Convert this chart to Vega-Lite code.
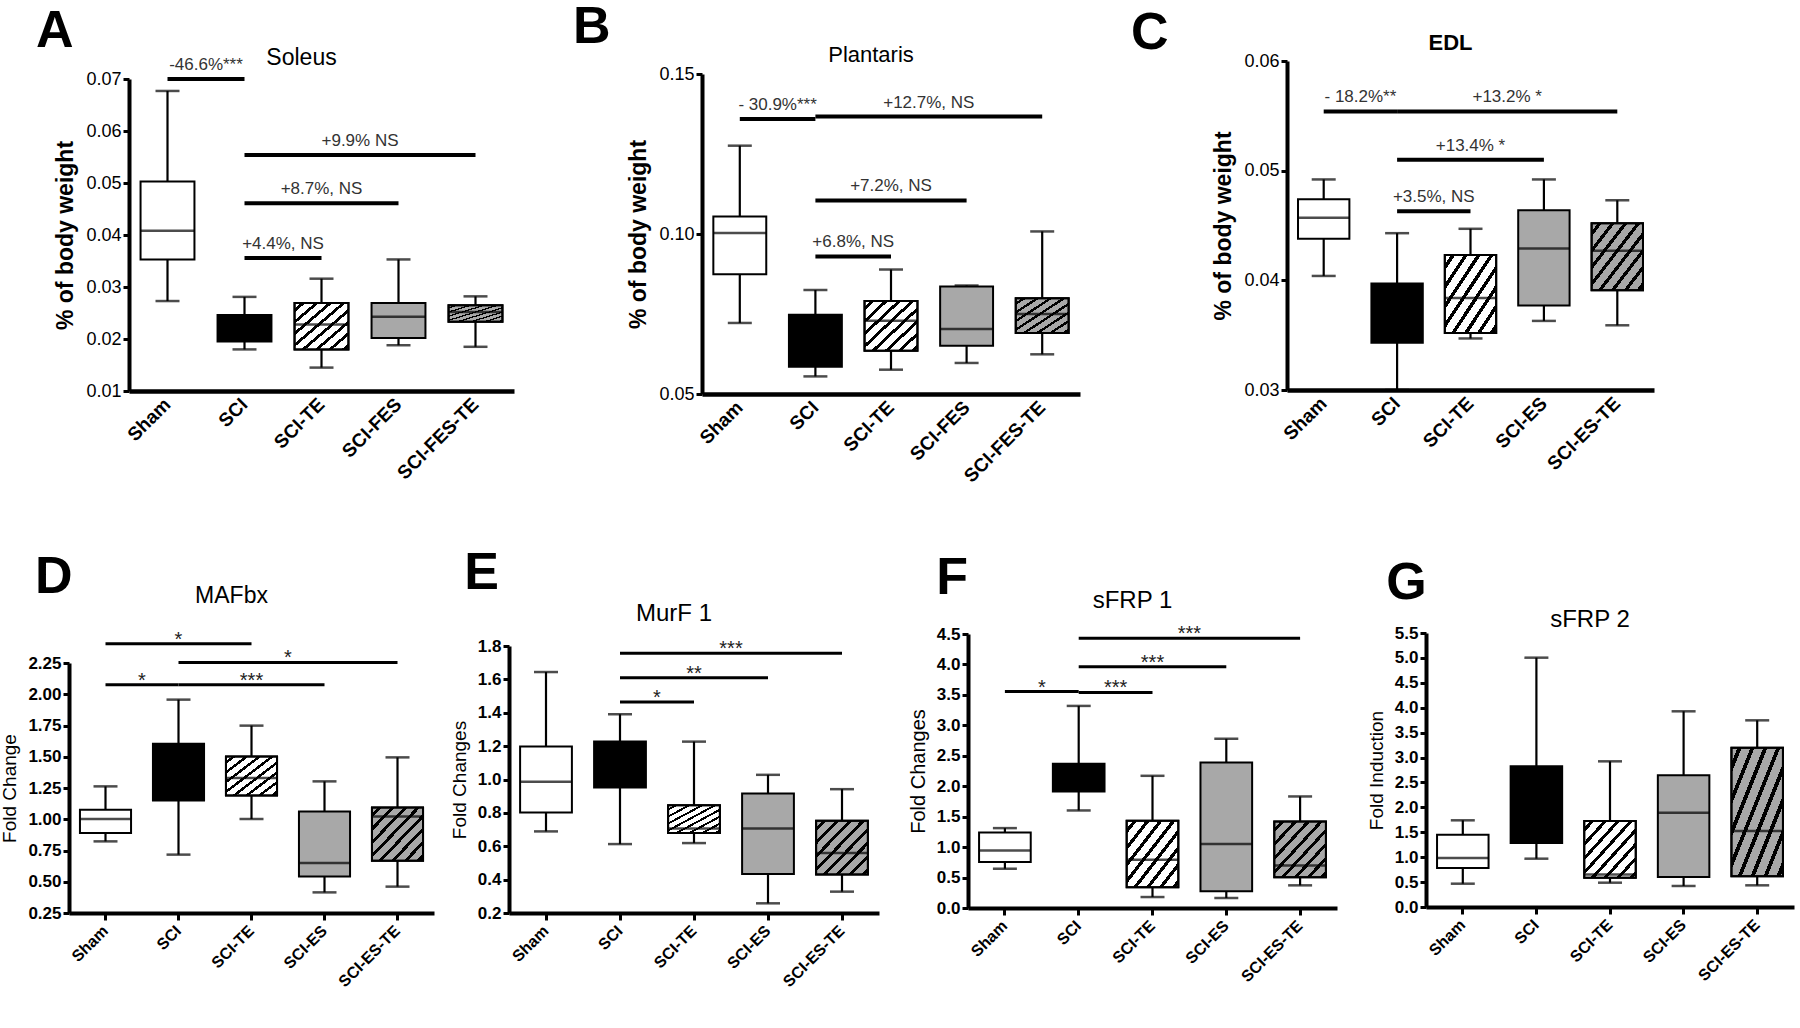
{
"$schema": "https://vega.github.io/schema/vega-lite/v6.json",
"padding": {"left": 0, "top": 1, "right": 3, "bottom": 3},
"background": "white",
"config": {"view": {"stroke": null}, "font": "Liberation Sans", "axis": {"grid": false, "domainColor": "black", "tickColor": "black", "labelColor": "black", "titleColor": "black", "labelFont": "Liberation Sans", "titleFont": "Liberation Sans", "labelOverlap": false, "tickCount": 30}, "title": {"font": "Liberation Sans", "color": "black"}},
"spacing": 61,
"vconcat": [
{"spacing": -35, "hconcat": [
 {"width": 1, "height": 1, "data": {"values": []}, "mark": "point"},
 {"spacing": 58, "hconcat": [
  {"title": {"text": "A", "anchor": "start", "frame": "bounds", "fontSize": 52, "fontWeight": "bold", "dx": -19, "offset": -11},
   "spacing": -15,
   "vconcat": [{"width": 1, "height": 1, "data": {"values": []}, "mark": "point"},
    {"width": 385, "height": 312,
    "title": {"text": "Soleus", "anchor": "middle", "frame": "group", "fontSize": 23, "fontWeight": "normal", "dx": -20, "offset": -14},
    "layer": [
     {"data": {"values": [
       {"group": "Sham", "lo": 0.0273, "q1": 0.0353, "median": 0.0408, "q3": 0.0503, "hi": 0.0677},
       {"group": "SCI", "lo": 0.0180, "q1": 0.0195, "median": 0.0220, "q3": 0.0246, "hi": 0.0281},
       {"group": "SCI-TE", "lo": 0.0145, "q1": 0.0180, "median": 0.0228, "q3": 0.0269, "hi": 0.0316},
       {"group": "SCI-FES", "lo": 0.0188, "q1": 0.0202, "median": 0.0243, "q3": 0.0269, "hi": 0.0353},
       {"group": "SCI-FES-TE", "lo": 0.0185, "q1": 0.0233, "median": 0.0252, "q3": 0.0265, "hi": 0.0282}]},
      "encoding": {"x": {"field": "group", "type": "nominal", "scale": {"domain": ["Sham","SCI","SCI-TE","SCI-FES","SCI-FES-TE"], "paddingInner": 0, "paddingOuter": 0}, "axis": {"title": null, "ticks": false, "domainWidth": 4.5, "labelAngle": -45, "labelAlign": "right", "labelBaseline": "middle", "labelFontSize": 19, "labelFontWeight": "bold", "labelPadding": 10}}},
      "layer": [
       {"mark": {"type": "rule", "strokeWidth": 2.2, "color": "black"}, "encoding": {"y": {"field": "lo", "type": "quantitative", "scale": {"domain": [0.01, 0.07], "nice": false, "zero": false}, "axis": {"title": "% of body weight", "values": [0.01,0.02,0.03,0.04,0.05,0.06,0.07], "tickCount": 30, "format": ".2f", "labelOverlap": false, "domainWidth": 4, "tickWidth": 3, "tickSize": 6, "labelFontSize": 18, "titleFontSize": 23, "titleFontWeight": "bold", "labelPadding": 2, "titlePadding": 8}}, "y2": {"field": "hi"}}},
       {"mark": {"type": "tick", "size": 24, "thickness": 2.5, "color": "black"}, "encoding": {"y": {"field": "lo", "type": "quantitative"}}},
       {"mark": {"type": "tick", "size": 24, "thickness": 2.5, "color": "black"}, "encoding": {"y": {"field": "hi", "type": "quantitative"}}},
       {"mark": {"type": "bar", "width": {"band": 0.7}, "stroke": "black", "strokeWidth": 2}, "encoding": {"y": {"field": "q1", "type": "quantitative"}, "y2": {"field": "q3"}, "fill": {"field": "group", "type": "nominal", "scale": {"domain": ["Sham","SCI","SCI-TE","SCI-FES","SCI-FES-TE","SCI-ES","SCI-ES-TE"], "range": ["white","black","white","#a8a8a8","#a8a8a8","#a8a8a8","#a8a8a8"]}, "legend": null}}},
       {"transform": [{"filter": "indexof(datum.group, '-TE') >= 0"}], "mark": {"type": "bar", "width": {"band": 0.7}, "stroke": "black", "strokeWidth": 2, "fill": {"gradient": "linear", "x1": 0, "y1": 0, "x2": 1, "y2": 1, "stops": [{"offset": 0, "color": "rgba(0,0,0,0)"},{"offset": 0.06, "color": "rgba(0,0,0,0)"},{"offset": 0.06, "color": "black"},{"offset": 0.1, "color": "black"},{"offset": 0.1, "color": "rgba(0,0,0,0)"},{"offset": 0.185, "color": "rgba(0,0,0,0)"},{"offset": 0.185, "color": "black"},{"offset": 0.225, "color": "black"},{"offset": 0.225, "color": "rgba(0,0,0,0)"},{"offset": 0.31, "color": "rgba(0,0,0,0)"},{"offset": 0.31, "color": "black"},{"offset": 0.35, "color": "black"},{"offset": 0.35, "color": "rgba(0,0,0,0)"},{"offset": 0.435, "color": "rgba(0,0,0,0)"},{"offset": 0.435, "color": "black"},{"offset": 0.475, "color": "black"},{"offset": 0.475, "color": "rgba(0,0,0,0)"},{"offset": 0.56, "color": "rgba(0,0,0,0)"},{"offset": 0.56, "color": "black"},{"offset": 0.6, "color": "black"},{"offset": 0.6, "color": "rgba(0,0,0,0)"},{"offset": 0.685, "color": "rgba(0,0,0,0)"},{"offset": 0.685, "color": "black"},{"offset": 0.725, "color": "black"},{"offset": 0.725, "color": "rgba(0,0,0,0)"},{"offset": 0.81, "color": "rgba(0,0,0,0)"},{"offset": 0.81, "color": "black"},{"offset": 0.85, "color": "black"},{"offset": 0.85, "color": "rgba(0,0,0,0)"},{"offset": 0.935, "color": "rgba(0,0,0,0)"},{"offset": 0.935, "color": "black"},{"offset": 0.975, "color": "black"},{"offset": 0.975, "color": "rgba(0,0,0,0)"},{"offset": 1, "color": "rgba(0,0,0,0)"}]}}, "encoding": {"y": {"field": "q1", "type": "quantitative"}, "y2": {"field": "q3"}}},
       {"mark": {"type": "tick", "size": 54, "thickness": 2.5, "color": "black"}, "encoding": {"y": {"field": "median", "type": "quantitative"}}}
      ]},
     {"data": {"values": [
       {"from": "Sham", "to": "SCI", "y": 0.0700, "label": "-46.6%***"},
       {"from": "SCI", "to": "SCI-FES-TE", "y": 0.0554, "label": "+9.9% NS"},
       {"from": "SCI", "to": "SCI-FES", "y": 0.0461, "label": "+8.7%, NS"},
       {"from": "SCI", "to": "SCI-TE", "y": 0.0356, "label": "+4.4%, NS"}]},
      "transform": [{"calculate": "indexof(['Sham','SCI','SCI-TE','SCI-FES','SCI-FES-TE'], datum.from)", "as": "i0"}, {"calculate": "indexof(['Sham','SCI','SCI-TE','SCI-FES','SCI-FES-TE'], datum.to)", "as": "i1"}, {"calculate": "(datum.i0 + datum.i1) / 2", "as": "im"}],
      "layer": [
       {"mark": {"type": "rule", "strokeWidth": 4, "color": "black"}, "encoding": {"x": {"field": "i0", "type": "quantitative", "scale": {"domain": [-0.5, 4.5], "nice": false, "zero": false}, "axis": null}, "x2": {"field": "i1"}, "y": {"field": "y", "type": "quantitative"}}},
       {"mark": {"type": "text", "fontSize": 17, "color": "#333", "baseline": "alphabetic", "dy": -9}, "encoding": {"x": {"field": "im", "type": "quantitative", "scale": {"domain": [-0.5, 4.5], "nice": false, "zero": false}, "axis": null}, "y": {"field": "y", "type": "quantitative"}, "text": {"field": "label"}}}
      ]}
    ],
    "resolve": {"scale": {"x": "independent"}}}]},
  {"spacing": 50, "hconcat": [
   {"title": {"text": "B", "anchor": "start", "frame": "bounds", "fontSize": 52, "fontWeight": "bold", "dx": -55, "offset": -10},
    "spacing": -18,
    "vconcat": [{"width": 1, "height": 1, "data": {"values": []}, "mark": "point"},
     {"width": 378, "height": 320,
     "title": {"text": "Plantaris", "anchor": "middle", "frame": "group", "fontSize": 22, "fontWeight": "normal", "dx": -20, "offset": -2},
     "layer": [
      {"data": {"values": [
        {"group": "Sham", "lo": 0.0722, "q1": 0.0874, "median": 0.1003, "q3": 0.1055, "hi": 0.1276},
        {"group": "SCI", "lo": 0.0555, "q1": 0.0585, "median": 0.0650, "q3": 0.0748, "hi": 0.0825},
        {"group": "SCI-TE", "lo": 0.0576, "q1": 0.0635, "median": 0.0729, "q3": 0.0791, "hi": 0.0889},
        {"group": "SCI-FES", "lo": 0.0597, "q1": 0.0651, "median": 0.0703, "q3": 0.0836, "hi": 0.0839},
        {"group": "SCI-FES-TE", "lo": 0.0624, "q1": 0.0691, "median": 0.0750, "q3": 0.0799, "hi": 0.1008}]},
       "encoding": {"x": {"field": "group", "type": "nominal", "scale": {"domain": ["Sham","SCI","SCI-TE","SCI-FES","SCI-FES-TE"], "paddingInner": 0, "paddingOuter": 0}, "axis": {"title": null, "ticks": false, "domainWidth": 4.5, "labelAngle": -45, "labelAlign": "right", "labelBaseline": "middle", "labelFontSize": 19, "labelFontWeight": "bold", "labelPadding": 10}}},
       "layer": [
        {"mark": {"type": "rule", "strokeWidth": 2.2, "color": "black"}, "encoding": {"y": {"field": "lo", "type": "quantitative", "scale": {"domain": [0.05, 0.15], "nice": false, "zero": false}, "axis": {"title": "% of body weight", "values": [0.05,0.10,0.15], "tickCount": 30, "format": ".2f", "labelOverlap": false, "domainWidth": 4, "tickWidth": 3, "tickSize": 6, "labelFontSize": 18, "titleFontSize": 23, "titleFontWeight": "bold", "labelPadding": 2, "titlePadding": 8}}, "y2": {"field": "hi"}}},
        {"mark": {"type": "tick", "size": 24, "thickness": 2.5, "color": "black"}, "encoding": {"y": {"field": "lo", "type": "quantitative"}}},
        {"mark": {"type": "tick", "size": 24, "thickness": 2.5, "color": "black"}, "encoding": {"y": {"field": "hi", "type": "quantitative"}}},
        {"mark": {"type": "bar", "width": {"band": 0.7}, "stroke": "black", "strokeWidth": 2}, "encoding": {"y": {"field": "q1", "type": "quantitative"}, "y2": {"field": "q3"}, "fill": {"field": "group", "type": "nominal", "scale": {"domain": ["Sham","SCI","SCI-TE","SCI-FES","SCI-FES-TE","SCI-ES","SCI-ES-TE"], "range": ["white","black","white","#a8a8a8","#a8a8a8","#a8a8a8","#a8a8a8"]}, "legend": null}}},
        {"transform": [{"filter": "indexof(datum.group, '-TE') >= 0"}], "mark": {"type": "bar", "width": {"band": 0.7}, "stroke": "black", "strokeWidth": 2, "fill": {"gradient": "linear", "x1": 0, "y1": 0, "x2": 1, "y2": 1, "stops": [{"offset": 0, "color": "rgba(0,0,0,0)"},{"offset": 0.06, "color": "rgba(0,0,0,0)"},{"offset": 0.06, "color": "black"},{"offset": 0.1, "color": "black"},{"offset": 0.1, "color": "rgba(0,0,0,0)"},{"offset": 0.185, "color": "rgba(0,0,0,0)"},{"offset": 0.185, "color": "black"},{"offset": 0.225, "color": "black"},{"offset": 0.225, "color": "rgba(0,0,0,0)"},{"offset": 0.31, "color": "rgba(0,0,0,0)"},{"offset": 0.31, "color": "black"},{"offset": 0.35, "color": "black"},{"offset": 0.35, "color": "rgba(0,0,0,0)"},{"offset": 0.435, "color": "rgba(0,0,0,0)"},{"offset": 0.435, "color": "black"},{"offset": 0.475, "color": "black"},{"offset": 0.475, "color": "rgba(0,0,0,0)"},{"offset": 0.56, "color": "rgba(0,0,0,0)"},{"offset": 0.56, "color": "black"},{"offset": 0.6, "color": "black"},{"offset": 0.6, "color": "rgba(0,0,0,0)"},{"offset": 0.685, "color": "rgba(0,0,0,0)"},{"offset": 0.685, "color": "black"},{"offset": 0.725, "color": "black"},{"offset": 0.725, "color": "rgba(0,0,0,0)"},{"offset": 0.81, "color": "rgba(0,0,0,0)"},{"offset": 0.81, "color": "black"},{"offset": 0.85, "color": "black"},{"offset": 0.85, "color": "rgba(0,0,0,0)"},{"offset": 0.935, "color": "rgba(0,0,0,0)"},{"offset": 0.935, "color": "black"},{"offset": 0.975, "color": "black"},{"offset": 0.975, "color": "rgba(0,0,0,0)"},{"offset": 1, "color": "rgba(0,0,0,0)"}]}}, "encoding": {"y": {"field": "q1", "type": "quantitative"}, "y2": {"field": "q3"}}},
        {"mark": {"type": "tick", "size": 53, "thickness": 2.5, "color": "black"}, "encoding": {"y": {"field": "median", "type": "quantitative"}}}
       ]},
      {"data": {"values": [
        {"from": "Sham", "to": "SCI", "y": 0.1359, "label": "- 30.9%***"},
        {"from": "SCI", "to": "SCI-FES-TE", "y": 0.1367, "label": "+12.7%, NS"},
        {"from": "SCI", "to": "SCI-FES", "y": 0.1105, "label": "+7.2%, NS"},
        {"from": "SCI", "to": "SCI-TE", "y": 0.0930, "label": "+6.8%, NS"}]},
       "transform": [{"calculate": "indexof(['Sham','SCI','SCI-TE','SCI-FES','SCI-FES-TE'], datum.from)", "as": "i0"}, {"calculate": "indexof(['Sham','SCI','SCI-TE','SCI-FES','SCI-FES-TE'], datum.to)", "as": "i1"}, {"calculate": "(datum.i0 + datum.i1) / 2", "as": "im"}],
       "layer": [
        {"mark": {"type": "rule", "strokeWidth": 4, "color": "black"}, "encoding": {"x": {"field": "i0", "type": "quantitative", "scale": {"domain": [-0.5, 4.5], "nice": false, "zero": false}, "axis": null}, "x2": {"field": "i1"}, "y": {"field": "y", "type": "quantitative"}}},
        {"mark": {"type": "text", "fontSize": 17, "color": "#333", "baseline": "alphabetic", "dy": -9}, "encoding": {"x": {"field": "im", "type": "quantitative", "scale": {"domain": [-0.5, 4.5], "nice": false, "zero": false}, "axis": null}, "y": {"field": "y", "type": "quantitative"}, "text": {"field": "label"}}}
       ]}
     ],
     "resolve": {"scale": {"x": "independent"}}}]},
   {"title": {"text": "C", "anchor": "start", "frame": "bounds", "fontSize": 52, "fontWeight": "bold", "dx": -82, "offset": -28},
    "vconcat": [{"width": 367, "height": 329,
     "title": {"text": "EDL", "anchor": "middle", "frame": "group", "fontSize": 22, "fontWeight": "bold", "dx": -20, "offset": -3},
     "layer": [
      {"data": {"values": [
        {"group": "Sham", "lo": 0.0404, "q1": 0.0438, "median": 0.0457, "q3": 0.0474, "hi": 0.0492},
        {"group": "SCI", "lo": 0.0300, "q1": 0.0343, "median": 0.0370, "q3": 0.0397, "hi": 0.0443},
        {"group": "SCI-TE", "lo": 0.0347, "q1": 0.0352, "median": 0.0384, "q3": 0.0423, "hi": 0.0447},
        {"group": "SCI-ES", "lo": 0.0363, "q1": 0.0377, "median": 0.0429, "q3": 0.0464, "hi": 0.0492},
        {"group": "SCI-ES-TE", "lo": 0.0359, "q1": 0.0391, "median": 0.0427, "q3": 0.0452, "hi": 0.0473}]},
       "encoding": {"x": {"field": "group", "type": "nominal", "scale": {"domain": ["Sham","SCI","SCI-TE","SCI-ES","SCI-ES-TE"], "paddingInner": 0, "paddingOuter": 0}, "axis": {"title": null, "ticks": false, "domainWidth": 4.5, "labelAngle": -45, "labelAlign": "right", "labelBaseline": "middle", "labelFontSize": 19, "labelFontWeight": "bold", "labelPadding": 10}}},
       "layer": [
        {"mark": {"type": "rule", "strokeWidth": 2.2, "color": "black"}, "encoding": {"y": {"field": "lo", "type": "quantitative", "scale": {"domain": [0.03, 0.06], "nice": false, "zero": false}, "axis": {"title": "% of body weight", "values": [0.03,0.04,0.05,0.06], "tickCount": 30, "format": ".2f", "labelOverlap": false, "domainWidth": 4, "tickWidth": 3, "tickSize": 6, "labelFontSize": 18, "titleFontSize": 23, "titleFontWeight": "bold", "labelPadding": 2, "titlePadding": 8}}, "y2": {"field": "hi"}}},
        {"mark": {"type": "tick", "size": 24, "thickness": 2.5, "color": "black"}, "encoding": {"y": {"field": "lo", "type": "quantitative"}}},
        {"mark": {"type": "tick", "size": 24, "thickness": 2.5, "color": "black"}, "encoding": {"y": {"field": "hi", "type": "quantitative"}}},
        {"mark": {"type": "bar", "width": {"band": 0.7}, "stroke": "black", "strokeWidth": 2}, "encoding": {"y": {"field": "q1", "type": "quantitative"}, "y2": {"field": "q3"}, "fill": {"field": "group", "type": "nominal", "scale": {"domain": ["Sham","SCI","SCI-TE","SCI-FES","SCI-FES-TE","SCI-ES","SCI-ES-TE"], "range": ["white","black","white","#a8a8a8","#a8a8a8","#a8a8a8","#a8a8a8"]}, "legend": null}}},
        {"transform": [{"filter": "indexof(datum.group, '-TE') >= 0"}], "mark": {"type": "bar", "width": {"band": 0.7}, "stroke": "black", "strokeWidth": 2, "fill": {"gradient": "linear", "x1": 0, "y1": 0, "x2": 1, "y2": 1, "stops": [{"offset": 0, "color": "rgba(0,0,0,0)"},{"offset": 0.06, "color": "rgba(0,0,0,0)"},{"offset": 0.06, "color": "black"},{"offset": 0.1, "color": "black"},{"offset": 0.1, "color": "rgba(0,0,0,0)"},{"offset": 0.185, "color": "rgba(0,0,0,0)"},{"offset": 0.185, "color": "black"},{"offset": 0.225, "color": "black"},{"offset": 0.225, "color": "rgba(0,0,0,0)"},{"offset": 0.31, "color": "rgba(0,0,0,0)"},{"offset": 0.31, "color": "black"},{"offset": 0.35, "color": "black"},{"offset": 0.35, "color": "rgba(0,0,0,0)"},{"offset": 0.435, "color": "rgba(0,0,0,0)"},{"offset": 0.435, "color": "black"},{"offset": 0.475, "color": "black"},{"offset": 0.475, "color": "rgba(0,0,0,0)"},{"offset": 0.56, "color": "rgba(0,0,0,0)"},{"offset": 0.56, "color": "black"},{"offset": 0.6, "color": "black"},{"offset": 0.6, "color": "rgba(0,0,0,0)"},{"offset": 0.685, "color": "rgba(0,0,0,0)"},{"offset": 0.685, "color": "black"},{"offset": 0.725, "color": "black"},{"offset": 0.725, "color": "rgba(0,0,0,0)"},{"offset": 0.81, "color": "rgba(0,0,0,0)"},{"offset": 0.81, "color": "black"},{"offset": 0.85, "color": "black"},{"offset": 0.85, "color": "rgba(0,0,0,0)"},{"offset": 0.935, "color": "rgba(0,0,0,0)"},{"offset": 0.935, "color": "black"},{"offset": 0.975, "color": "black"},{"offset": 0.975, "color": "rgba(0,0,0,0)"},{"offset": 1, "color": "rgba(0,0,0,0)"}]}}, "encoding": {"y": {"field": "q1", "type": "quantitative"}, "y2": {"field": "q3"}}},
        {"mark": {"type": "tick", "size": 51, "thickness": 2.5, "color": "black"}, "encoding": {"y": {"field": "median", "type": "quantitative"}}}
       ]},
      {"data": {"values": [
        {"from": "Sham", "to": "SCI", "y": 0.0554, "label": "- 18.2%**"},
        {"from": "SCI", "to": "SCI-ES-TE", "y": 0.0554, "label": "+13.2% *"},
        {"from": "SCI", "to": "SCI-ES", "y": 0.0510, "label": "+13.4% *"},
        {"from": "SCI", "to": "SCI-TE", "y": 0.0463, "label": "+3.5%, NS"}]},
       "transform": [{"calculate": "indexof(['Sham','SCI','SCI-TE','SCI-ES','SCI-ES-TE'], datum.from)", "as": "i0"}, {"calculate": "indexof(['Sham','SCI','SCI-TE','SCI-ES','SCI-ES-TE'], datum.to)", "as": "i1"}, {"calculate": "(datum.i0 + datum.i1) / 2", "as": "im"}],
       "layer": [
        {"mark": {"type": "rule", "strokeWidth": 4, "color": "black"}, "encoding": {"x": {"field": "i0", "type": "quantitative", "scale": {"domain": [-0.5, 4.5], "nice": false, "zero": false}, "axis": null}, "x2": {"field": "i1"}, "y": {"field": "y", "type": "quantitative"}}},
        {"mark": {"type": "text", "fontSize": 17, "color": "#333", "baseline": "alphabetic", "dy": -9}, "encoding": {"x": {"field": "im", "type": "quantitative", "scale": {"domain": [-0.5, 4.5], "nice": false, "zero": false}, "axis": null}, "y": {"field": "y", "type": "quantitative"}, "text": {"field": "label"}}}
       ]}
     ],
     "resolve": {"scale": {"x": "independent"}}}]}
  ]}
 ]}
]},
{"spacing": 16, "hconcat": [
 {"title": {"text": "D", "anchor": "start", "frame": "bounds", "fontSize": 52, "fontWeight": "bold", "dx": 34, "offset": -19},
  "spacing": -50,
  "vconcat": [{"width": 1, "height": 1, "data": {"values": []}, "mark": "point"},
   {"width": 365, "height": 250,
   "title": {"text": "MAFbx", "anchor": "middle", "frame": "group", "fontSize": 23, "fontWeight": "normal", "dx": -20, "offset": 22},
   "layer": [
    {"data": {"values": [
      {"group": "Sham", "lo": 0.823, "q1": 0.89, "median": 1.002, "q3": 1.077, "hi": 1.263},
      {"group": "SCI", "lo": 0.717, "q1": 1.151, "median": 1.35, "q3": 1.605, "hi": 1.957},
      {"group": "SCI-TE", "lo": 1.002, "q1": 1.191, "median": 1.33, "q3": 1.503, "hi": 1.749},
      {"group": "SCI-ES", "lo": 0.415, "q1": 0.543, "median": 0.65, "q3": 1.063, "hi": 1.303},
      {"group": "SCI-ES-TE", "lo": 0.461, "q1": 0.669, "median": 1.023, "q3": 1.095, "hi": 1.495}]},
     "encoding": {"x": {"field": "group", "type": "nominal", "scale": {"domain": ["Sham","SCI","SCI-TE","SCI-ES","SCI-ES-TE"], "paddingInner": 0, "paddingOuter": 0}, "axis": {"title": null, "ticks": true, "tickSize": 7, "tickWidth": 3, "domainWidth": 4, "labelAngle": -45, "labelAlign": "right", "labelBaseline": "middle", "labelFontSize": 16, "labelFontWeight": "bold", "labelPadding": 8}}},
     "layer": [
      {"mark": {"type": "rule", "strokeWidth": 2.2, "color": "black"}, "encoding": {"y": {"field": "lo", "type": "quantitative", "scale": {"domain": [0.25, 2.25], "nice": false, "zero": false}, "axis": {"title": "Fold Change", "values": [0.25,0.5,0.75,1,1.25,1.5,1.75,2,2.25], "tickCount": 30, "format": ".2f", "labelOverlap": false, "domainWidth": 4, "tickWidth": 3, "tickSize": 6, "labelFontSize": 17, "labelFontWeight": "bold", "titleFontSize": 19, "titleFontWeight": "normal", "labelPadding": 2, "titlePadding": 8}}, "y2": {"field": "hi"}}},
      {"mark": {"type": "tick", "size": 24, "thickness": 2.5, "color": "black"}, "encoding": {"y": {"field": "lo", "type": "quantitative"}}},
      {"mark": {"type": "tick", "size": 24, "thickness": 2.5, "color": "black"}, "encoding": {"y": {"field": "hi", "type": "quantitative"}}},
      {"mark": {"type": "bar", "width": {"band": 0.7}, "stroke": "black", "strokeWidth": 2}, "encoding": {"y": {"field": "q1", "type": "quantitative"}, "y2": {"field": "q3"}, "fill": {"field": "group", "type": "nominal", "scale": {"domain": ["Sham","SCI","SCI-TE","SCI-FES","SCI-FES-TE","SCI-ES","SCI-ES-TE"], "range": ["white","black","white","#a8a8a8","#a8a8a8","#a8a8a8","#a8a8a8"]}, "legend": null}}},
      {"transform": [{"filter": "indexof(datum.group, '-TE') >= 0"}], "mark": {"type": "bar", "width": {"band": 0.7}, "stroke": "black", "strokeWidth": 2, "fill": {"gradient": "linear", "x1": 0, "y1": 0, "x2": 1, "y2": 1, "stops": [{"offset": 0, "color": "rgba(0,0,0,0)"},{"offset": 0.06, "color": "rgba(0,0,0,0)"},{"offset": 0.06, "color": "black"},{"offset": 0.1, "color": "black"},{"offset": 0.1, "color": "rgba(0,0,0,0)"},{"offset": 0.185, "color": "rgba(0,0,0,0)"},{"offset": 0.185, "color": "black"},{"offset": 0.225, "color": "black"},{"offset": 0.225, "color": "rgba(0,0,0,0)"},{"offset": 0.31, "color": "rgba(0,0,0,0)"},{"offset": 0.31, "color": "black"},{"offset": 0.35, "color": "black"},{"offset": 0.35, "color": "rgba(0,0,0,0)"},{"offset": 0.435, "color": "rgba(0,0,0,0)"},{"offset": 0.435, "color": "black"},{"offset": 0.475, "color": "black"},{"offset": 0.475, "color": "rgba(0,0,0,0)"},{"offset": 0.56, "color": "rgba(0,0,0,0)"},{"offset": 0.56, "color": "black"},{"offset": 0.6, "color": "black"},{"offset": 0.6, "color": "rgba(0,0,0,0)"},{"offset": 0.685, "color": "rgba(0,0,0,0)"},{"offset": 0.685, "color": "black"},{"offset": 0.725, "color": "black"},{"offset": 0.725, "color": "rgba(0,0,0,0)"},{"offset": 0.81, "color": "rgba(0,0,0,0)"},{"offset": 0.81, "color": "black"},{"offset": 0.85, "color": "black"},{"offset": 0.85, "color": "rgba(0,0,0,0)"},{"offset": 0.935, "color": "rgba(0,0,0,0)"},{"offset": 0.935, "color": "black"},{"offset": 0.975, "color": "black"},{"offset": 0.975, "color": "rgba(0,0,0,0)"},{"offset": 1, "color": "rgba(0,0,0,0)"}]}}, "encoding": {"y": {"field": "q1", "type": "quantitative"}, "y2": {"field": "q3"}}},
      {"mark": {"type": "tick", "size": 51, "thickness": 2.5, "color": "black"}, "encoding": {"y": {"field": "median", "type": "quantitative"}}}
     ]},
    {"data": {"values": [
      {"from": "Sham", "to": "SCI-TE", "y": 2.405, "label": "*"},
      {"from": "SCI", "to": "SCI-ES-TE", "y": 2.255, "label": "*"},
      {"from": "Sham", "to": "SCI", "y": 2.077, "label": "*"},
      {"from": "SCI", "to": "SCI-ES", "y": 2.077, "label": "***"}]},
     "transform": [{"calculate": "indexof(['Sham','SCI','SCI-TE','SCI-ES','SCI-ES-TE'], datum.from)", "as": "i0"}, {"calculate": "indexof(['Sham','SCI','SCI-TE','SCI-ES','SCI-ES-TE'], datum.to)", "as": "i1"}, {"calculate": "(datum.i0 + datum.i1) / 2", "as": "im"}],
     "layer": [
      {"mark": {"type": "rule", "strokeWidth": 3, "color": "black"}, "encoding": {"x": {"field": "i0", "type": "quantitative", "scale": {"domain": [-0.5, 4.5], "nice": false, "zero": false}, "axis": null}, "x2": {"field": "i1"}, "y": {"field": "y", "type": "quantitative"}}},
      {"mark": {"type": "text", "fontSize": 20, "color": "#222", "baseline": "alphabetic", "dy": 2}, "encoding": {"x": {"field": "im", "type": "quantitative", "scale": {"domain": [-0.5, 4.5], "nice": false, "zero": false}, "axis": null}, "y": {"field": "y", "type": "quantitative"}, "text": {"field": "label"}}}
     ]}
   ],
   "resolve": {"scale": {"x": "independent"}}}]},
 {"spacing": 29, "hconcat": [
  {"title": {"text": "E", "anchor": "start", "frame": "bounds", "fontSize": 52, "fontWeight": "bold", "dx": 14, "offset": 2},
   "spacing": -32,
   "vconcat": [{"width": 1, "height": 1, "data": {"values": []}, "mark": "point"},
    {"width": 370, "height": 267,
    "title": {"text": "MurF 1", "anchor": "middle", "frame": "group", "fontSize": 24, "fontWeight": "normal", "dx": -20, "offset": 11},
    "layer": [
     {"data": {"values": [
       {"group": "Sham", "lo": 0.689, "q1": 0.802, "median": 0.986, "q3": 1.198, "hi": 1.644},
       {"group": "SCI", "lo": 0.613, "q1": 0.952, "median": 1.10, "q3": 1.227, "hi": 1.391},
       {"group": "SCI-TE", "lo": 0.619, "q1": 0.679, "median": 0.707, "q3": 0.846, "hi": 1.227},
       {"group": "SCI-ES", "lo": 0.258, "q1": 0.433, "median": 0.707, "q3": 0.916, "hi": 1.028},
       {"group": "SCI-ES-TE", "lo": 0.328, "q1": 0.430, "median": 0.559, "q3": 0.753, "hi": 0.942}]},
      "encoding": {"x": {"field": "group", "type": "nominal", "scale": {"domain": ["Sham","SCI","SCI-TE","SCI-ES","SCI-ES-TE"], "paddingInner": 0, "paddingOuter": 0}, "axis": {"title": null, "ticks": true, "tickSize": 7, "tickWidth": 3, "domainWidth": 4, "labelAngle": -45, "labelAlign": "right", "labelBaseline": "middle", "labelFontSize": 16, "labelFontWeight": "bold", "labelPadding": 8}}},
      "layer": [
       {"mark": {"type": "rule", "strokeWidth": 2.2, "color": "black"}, "encoding": {"y": {"field": "lo", "type": "quantitative", "scale": {"domain": [0.2, 1.8], "nice": false, "zero": false}, "axis": {"title": "Fold Changes", "values": [0.2,0.4,0.6,0.8,1.0,1.2,1.4,1.6,1.8], "tickCount": 30, "format": ".1f", "labelOverlap": false, "domainWidth": 4, "tickWidth": 3, "tickSize": 6, "labelFontSize": 17, "labelFontWeight": "bold", "titleFontSize": 19, "titleFontWeight": "normal", "labelPadding": 2, "titlePadding": 8}}, "y2": {"field": "hi"}}},
       {"mark": {"type": "tick", "size": 24, "thickness": 2.5, "color": "black"}, "encoding": {"y": {"field": "lo", "type": "quantitative"}}},
       {"mark": {"type": "tick", "size": 24, "thickness": 2.5, "color": "black"}, "encoding": {"y": {"field": "hi", "type": "quantitative"}}},
       {"mark": {"type": "bar", "width": {"band": 0.7}, "stroke": "black", "strokeWidth": 2}, "encoding": {"y": {"field": "q1", "type": "quantitative"}, "y2": {"field": "q3"}, "fill": {"field": "group", "type": "nominal", "scale": {"domain": ["Sham","SCI","SCI-TE","SCI-FES","SCI-FES-TE","SCI-ES","SCI-ES-TE"], "range": ["white","black","white","#a8a8a8","#a8a8a8","#a8a8a8","#a8a8a8"]}, "legend": null}}},
       {"transform": [{"filter": "indexof(datum.group, '-TE') >= 0"}], "mark": {"type": "bar", "width": {"band": 0.7}, "stroke": "black", "strokeWidth": 2, "fill": {"gradient": "linear", "x1": 0, "y1": 0, "x2": 1, "y2": 1, "stops": [{"offset": 0, "color": "rgba(0,0,0,0)"},{"offset": 0.06, "color": "rgba(0,0,0,0)"},{"offset": 0.06, "color": "black"},{"offset": 0.1, "color": "black"},{"offset": 0.1, "color": "rgba(0,0,0,0)"},{"offset": 0.185, "color": "rgba(0,0,0,0)"},{"offset": 0.185, "color": "black"},{"offset": 0.225, "color": "black"},{"offset": 0.225, "color": "rgba(0,0,0,0)"},{"offset": 0.31, "color": "rgba(0,0,0,0)"},{"offset": 0.31, "color": "black"},{"offset": 0.35, "color": "black"},{"offset": 0.35, "color": "rgba(0,0,0,0)"},{"offset": 0.435, "color": "rgba(0,0,0,0)"},{"offset": 0.435, "color": "black"},{"offset": 0.475, "color": "black"},{"offset": 0.475, "color": "rgba(0,0,0,0)"},{"offset": 0.56, "color": "rgba(0,0,0,0)"},{"offset": 0.56, "color": "black"},{"offset": 0.6, "color": "black"},{"offset": 0.6, "color": "rgba(0,0,0,0)"},{"offset": 0.685, "color": "rgba(0,0,0,0)"},{"offset": 0.685, "color": "black"},{"offset": 0.725, "color": "black"},{"offset": 0.725, "color": "rgba(0,0,0,0)"},{"offset": 0.81, "color": "rgba(0,0,0,0)"},{"offset": 0.81, "color": "black"},{"offset": 0.85, "color": "black"},{"offset": 0.85, "color": "rgba(0,0,0,0)"},{"offset": 0.935, "color": "rgba(0,0,0,0)"},{"offset": 0.935, "color": "black"},{"offset": 0.975, "color": "black"},{"offset": 0.975, "color": "rgba(0,0,0,0)"},{"offset": 1, "color": "rgba(0,0,0,0)"}]}}, "encoding": {"y": {"field": "q1", "type": "quantitative"}, "y2": {"field": "q3"}}},
       {"mark": {"type": "tick", "size": 52, "thickness": 2.5, "color": "black"}, "encoding": {"y": {"field": "median", "type": "quantitative"}}}
      ]},
     {"data": {"values": [
       {"from": "SCI", "to": "SCI-ES-TE", "y": 1.756, "label": "***"},
       {"from": "SCI", "to": "SCI-ES", "y": 1.610, "label": "**"},
       {"from": "SCI", "to": "SCI-TE", "y": 1.465, "label": "*"}]},
      "transform": [{"calculate": "indexof(['Sham','SCI','SCI-TE','SCI-ES','SCI-ES-TE'], datum.from)", "as": "i0"}, {"calculate": "indexof(['Sham','SCI','SCI-TE','SCI-ES','SCI-ES-TE'], datum.to)", "as": "i1"}, {"calculate": "(datum.i0 + datum.i1) / 2", "as": "im"}],
      "layer": [
       {"mark": {"type": "rule", "strokeWidth": 3, "color": "black"}, "encoding": {"x": {"field": "i0", "type": "quantitative", "scale": {"domain": [-0.5, 4.5], "nice": false, "zero": false}, "axis": null}, "x2": {"field": "i1"}, "y": {"field": "y", "type": "quantitative"}}},
       {"mark": {"type": "text", "fontSize": 20, "color": "#222", "baseline": "alphabetic", "dy": 2}, "encoding": {"x": {"field": "im", "type": "quantitative", "scale": {"domain": [-0.5, 4.5], "nice": false, "zero": false}, "axis": null}, "y": {"field": "y", "type": "quantitative"}, "text": {"field": "label"}}}
      ]}
    ],
    "resolve": {"scale": {"x": "independent"}}}]},
  {"spacing": 30, "hconcat": [
   {"title": {"text": "F", "anchor": "start", "frame": "bounds", "fontSize": 52, "fontWeight": "bold", "dx": 28, "offset": -16},
    "spacing": -47,
    "vconcat": [{"width": 1, "height": 1, "data": {"values": []}, "mark": "point"},
     {"width": 369, "height": 274,
     "title": {"text": "sFRP 1", "anchor": "middle", "frame": "group", "fontSize": 24, "fontWeight": "normal", "dx": -20, "offset": 11},
     "layer": [
      {"data": {"values": [
        {"group": "Sham", "lo": 0.645, "q1": 0.755, "median": 0.946, "q3": 1.241, "hi": 1.312},
        {"group": "SCI", "lo": 1.602, "q1": 1.914, "median": 2.0, "q3": 2.368, "hi": 3.319},
        {"group": "SCI-TE", "lo": 0.18, "q1": 0.339, "median": 0.793, "q3": 1.433, "hi": 2.171},
        {"group": "SCI-ES", "lo": 0.164, "q1": 0.274, "median": 1.05, "q3": 2.389, "hi": 2.778},
        {"group": "SCI-ES-TE", "lo": 0.372, "q1": 0.503, "median": 0.70, "q3": 1.422, "hi": 1.832}]},
       "encoding": {"x": {"field": "group", "type": "nominal", "scale": {"domain": ["Sham","SCI","SCI-TE","SCI-ES","SCI-ES-TE"], "paddingInner": 0, "paddingOuter": 0}, "axis": {"title": null, "ticks": true, "tickSize": 7, "tickWidth": 3, "domainWidth": 4, "labelAngle": -45, "labelAlign": "right", "labelBaseline": "middle", "labelFontSize": 16, "labelFontWeight": "bold", "labelPadding": 8}}},
       "layer": [
        {"mark": {"type": "rule", "strokeWidth": 2.2, "color": "black"}, "encoding": {"y": {"field": "lo", "type": "quantitative", "scale": {"domain": [0, 4.5], "nice": false, "zero": false}, "axis": {"title": "Fold Changes", "values": [0,0.5,1,1.5,2,2.5,3,3.5,4,4.5], "tickCount": 30, "format": ".1f", "labelOverlap": false, "domainWidth": 4, "tickWidth": 3, "tickSize": 6, "labelFontSize": 17, "labelFontWeight": "bold", "titleFontSize": 20, "titleFontWeight": "normal", "labelPadding": 2, "titlePadding": 8}}, "y2": {"field": "hi"}}},
        {"mark": {"type": "tick", "size": 24, "thickness": 2.5, "color": "black"}, "encoding": {"y": {"field": "lo", "type": "quantitative"}}},
        {"mark": {"type": "tick", "size": 24, "thickness": 2.5, "color": "black"}, "encoding": {"y": {"field": "hi", "type": "quantitative"}}},
        {"mark": {"type": "bar", "width": {"band": 0.7}, "stroke": "black", "strokeWidth": 2}, "encoding": {"y": {"field": "q1", "type": "quantitative"}, "y2": {"field": "q3"}, "fill": {"field": "group", "type": "nominal", "scale": {"domain": ["Sham","SCI","SCI-TE","SCI-FES","SCI-FES-TE","SCI-ES","SCI-ES-TE"], "range": ["white","black","white","#a8a8a8","#a8a8a8","#a8a8a8","#a8a8a8"]}, "legend": null}}},
        {"transform": [{"filter": "indexof(datum.group, '-TE') >= 0"}], "mark": {"type": "bar", "width": {"band": 0.7}, "stroke": "black", "strokeWidth": 2, "fill": {"gradient": "linear", "x1": 0, "y1": 0, "x2": 1, "y2": 1, "stops": [{"offset": 0, "color": "rgba(0,0,0,0)"},{"offset": 0.06, "color": "rgba(0,0,0,0)"},{"offset": 0.06, "color": "black"},{"offset": 0.1, "color": "black"},{"offset": 0.1, "color": "rgba(0,0,0,0)"},{"offset": 0.185, "color": "rgba(0,0,0,0)"},{"offset": 0.185, "color": "black"},{"offset": 0.225, "color": "black"},{"offset": 0.225, "color": "rgba(0,0,0,0)"},{"offset": 0.31, "color": "rgba(0,0,0,0)"},{"offset": 0.31, "color": "black"},{"offset": 0.35, "color": "black"},{"offset": 0.35, "color": "rgba(0,0,0,0)"},{"offset": 0.435, "color": "rgba(0,0,0,0)"},{"offset": 0.435, "color": "black"},{"offset": 0.475, "color": "black"},{"offset": 0.475, "color": "rgba(0,0,0,0)"},{"offset": 0.56, "color": "rgba(0,0,0,0)"},{"offset": 0.56, "color": "black"},{"offset": 0.6, "color": "black"},{"offset": 0.6, "color": "rgba(0,0,0,0)"},{"offset": 0.685, "color": "rgba(0,0,0,0)"},{"offset": 0.685, "color": "black"},{"offset": 0.725, "color": "black"},{"offset": 0.725, "color": "rgba(0,0,0,0)"},{"offset": 0.81, "color": "rgba(0,0,0,0)"},{"offset": 0.81, "color": "black"},{"offset": 0.85, "color": "black"},{"offset": 0.85, "color": "rgba(0,0,0,0)"},{"offset": 0.935, "color": "rgba(0,0,0,0)"},{"offset": 0.935, "color": "black"},{"offset": 0.975, "color": "black"},{"offset": 0.975, "color": "rgba(0,0,0,0)"},{"offset": 1, "color": "rgba(0,0,0,0)"}]}}, "encoding": {"y": {"field": "q1", "type": "quantitative"}, "y2": {"field": "q3"}}},
        {"mark": {"type": "tick", "size": 52, "thickness": 2.5, "color": "black"}, "encoding": {"y": {"field": "median", "type": "quantitative"}}}
       ]},
      {"data": {"values": [
        {"from": "SCI", "to": "SCI-ES-TE", "y": 4.43, "label": "***"},
        {"from": "SCI", "to": "SCI-ES", "y": 3.964, "label": "***"},
        {"from": "Sham", "to": "SCI", "y": 3.554, "label": "*"},
        {"from": "SCI", "to": "SCI-TE", "y": 3.54, "label": "***"}]},
       "transform": [{"calculate": "indexof(['Sham','SCI','SCI-TE','SCI-ES','SCI-ES-TE'], datum.from)", "as": "i0"}, {"calculate": "indexof(['Sham','SCI','SCI-TE','SCI-ES','SCI-ES-TE'], datum.to)", "as": "i1"}, {"calculate": "(datum.i0 + datum.i1) / 2", "as": "im"}],
       "layer": [
        {"mark": {"type": "rule", "strokeWidth": 3, "color": "black"}, "encoding": {"x": {"field": "i0", "type": "quantitative", "scale": {"domain": [-0.5, 4.5], "nice": false, "zero": false}, "axis": null}, "x2": {"field": "i1"}, "y": {"field": "y", "type": "quantitative"}}},
        {"mark": {"type": "text", "fontSize": 20, "color": "#222", "baseline": "alphabetic", "dy": 2}, "encoding": {"x": {"field": "im", "type": "quantitative", "scale": {"domain": [-0.5, 4.5], "nice": false, "zero": false}, "axis": null}, "y": {"field": "y", "type": "quantitative"}, "text": {"field": "label"}}}
       ]}
     ],
     "resolve": {"scale": {"x": "independent"}}}]},
   {"title": {"text": "G", "anchor": "start", "frame": "bounds", "fontSize": 52, "fontWeight": "bold", "dx": 19, "offset": -2},
    "vconcat": [{"width": 368, "height": 274,
     "title": {"text": "sFRP 2", "anchor": "middle", "frame": "group", "fontSize": 24, "fontWeight": "normal", "dx": -20, "offset": -8},
     "data": {"values": [
       {"group": "Sham", "lo": 0.468, "q1": 0.783, "median": 0.984, "q3": 1.452, "hi": 1.74},
       {"group": "SCI", "lo": 0.97, "q1": 1.285, "median": 2.0, "q3": 2.824, "hi": 5.005},
       {"group": "SCI-TE", "lo": 0.488, "q1": 0.589, "median": 0.65, "q3": 1.726, "hi": 2.924},
       {"group": "SCI-ES", "lo": 0.422, "q1": 0.602, "median": 1.894, "q3": 2.643, "hi": 3.928},
       {"group": "SCI-ES-TE", "lo": 0.435, "q1": 0.615, "median": 1.525, "q3": 3.198, "hi": 3.747}]},
     "encoding": {"x": {"field": "group", "type": "nominal", "scale": {"domain": ["Sham","SCI","SCI-TE","SCI-ES","SCI-ES-TE"], "paddingInner": 0, "paddingOuter": 0}, "axis": {"title": null, "ticks": true, "tickSize": 7, "tickWidth": 3, "domainWidth": 4, "labelAngle": -45, "labelAlign": "right", "labelBaseline": "middle", "labelFontSize": 16, "labelFontWeight": "bold", "labelPadding": 8}}},
     "layer": [
      {"mark": {"type": "rule", "strokeWidth": 2.2, "color": "black"}, "encoding": {"y": {"field": "lo", "type": "quantitative", "scale": {"domain": [0, 5.5], "nice": false, "zero": false}, "axis": {"title": "Fold Induction", "values": [0,0.5,1,1.5,2,2.5,3,3.5,4,4.5,5,5.5], "tickCount": 30, "format": ".1f", "labelOverlap": false, "domainWidth": 4, "tickWidth": 3, "tickSize": 6, "labelFontSize": 17, "labelFontWeight": "bold", "titleFontSize": 19, "titleFontWeight": "normal", "labelPadding": 2, "titlePadding": 8}}, "y2": {"field": "hi"}}},
      {"mark": {"type": "tick", "size": 24, "thickness": 2.5, "color": "black"}, "encoding": {"y": {"field": "lo", "type": "quantitative"}}},
      {"mark": {"type": "tick", "size": 24, "thickness": 2.5, "color": "black"}, "encoding": {"y": {"field": "hi", "type": "quantitative"}}},
      {"mark": {"type": "bar", "width": {"band": 0.7}, "stroke": "black", "strokeWidth": 2}, "encoding": {"y": {"field": "q1", "type": "quantitative"}, "y2": {"field": "q3"}, "fill": {"field": "group", "type": "nominal", "scale": {"domain": ["Sham","SCI","SCI-TE","SCI-FES","SCI-FES-TE","SCI-ES","SCI-ES-TE"], "range": ["white","black","white","#a8a8a8","#a8a8a8","#a8a8a8","#a8a8a8"]}, "legend": null}}},
      {"transform": [{"filter": "indexof(datum.group, '-TE') >= 0"}], "mark": {"type": "bar", "width": {"band": 0.7}, "stroke": "black", "strokeWidth": 2, "fill": {"gradient": "linear", "x1": 0, "y1": 0, "x2": 1, "y2": 1, "stops": [{"offset": 0, "color": "rgba(0,0,0,0)"},{"offset": 0.06, "color": "rgba(0,0,0,0)"},{"offset": 0.06, "color": "black"},{"offset": 0.1, "color": "black"},{"offset": 0.1, "color": "rgba(0,0,0,0)"},{"offset": 0.185, "color": "rgba(0,0,0,0)"},{"offset": 0.185, "color": "black"},{"offset": 0.225, "color": "black"},{"offset": 0.225, "color": "rgba(0,0,0,0)"},{"offset": 0.31, "color": "rgba(0,0,0,0)"},{"offset": 0.31, "color": "black"},{"offset": 0.35, "color": "black"},{"offset": 0.35, "color": "rgba(0,0,0,0)"},{"offset": 0.435, "color": "rgba(0,0,0,0)"},{"offset": 0.435, "color": "black"},{"offset": 0.475, "color": "black"},{"offset": 0.475, "color": "rgba(0,0,0,0)"},{"offset": 0.56, "color": "rgba(0,0,0,0)"},{"offset": 0.56, "color": "black"},{"offset": 0.6, "color": "black"},{"offset": 0.6, "color": "rgba(0,0,0,0)"},{"offset": 0.685, "color": "rgba(0,0,0,0)"},{"offset": 0.685, "color": "black"},{"offset": 0.725, "color": "black"},{"offset": 0.725, "color": "rgba(0,0,0,0)"},{"offset": 0.81, "color": "rgba(0,0,0,0)"},{"offset": 0.81, "color": "black"},{"offset": 0.85, "color": "black"},{"offset": 0.85, "color": "rgba(0,0,0,0)"},{"offset": 0.935, "color": "rgba(0,0,0,0)"},{"offset": 0.935, "color": "black"},{"offset": 0.975, "color": "black"},{"offset": 0.975, "color": "rgba(0,0,0,0)"},{"offset": 1, "color": "rgba(0,0,0,0)"}]}}, "encoding": {"y": {"field": "q1", "type": "quantitative"}, "y2": {"field": "q3"}}},
      {"mark": {"type": "tick", "size": 51, "thickness": 2.5, "color": "black"}, "encoding": {"y": {"field": "median", "type": "quantitative"}}}
     ]}]}
  ]}
 ]}
]}
]
}
